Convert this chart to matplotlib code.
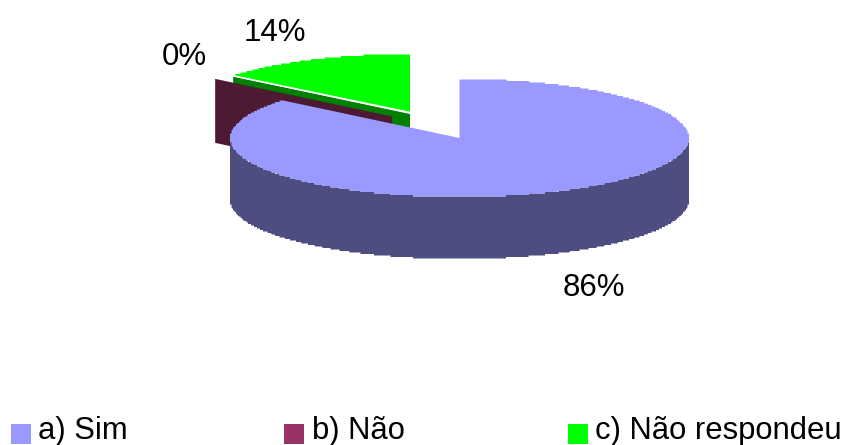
import numpy as np
import matplotlib
matplotlib.use("Agg")
import matplotlib.pyplot as plt
from matplotlib.patches import Polygon, Rectangle

plt.rcParams['font.family'] = ['Liberation Sans', 'DejaVu Sans']

categories = ['a) Sim', 'b) Não', 'c) Não respondeu']
values = [86, 0, 14]
labels = ['86%', '0%', '14%']

top_colors = ['#9999FF', '#993366', '#00FF00']
side_colors = ['#4D4D80', '#4D1933', '#008000']

# Pie geometry in figure pixels
RX, RY, DEPTH = 229.5, 59.0, 62.0
STEP = 1.5  # curved rims are drawn with a slight staircase
centers = [(459.5, 138.0), (392.0, 116.5), (410.0, 113.0)]
label_pos = [(593.5, 296), (184.5, 65), (275, 41)]
legend_swatch_x = [10.5, 284, 568]
legend_text_x = [38.5, 312, 595]

fig = plt.figure(figsize=(8.48, 4.45), dpi=100)
ax = fig.add_axes([0, 0, 1, 1])
ax.set_xlim(0, 848)
ax.set_ylim(445, 0)
ax.axis('off')


def rim(center, theta, stepped=False):
    """Point on the top ellipse; theta runs clockwise from twelve o'clock."""
    t = np.radians(theta)
    dx, dy = RX * np.sin(t), -RY * np.cos(t)
    if stepped:
        dx = np.round(dx / STEP) * STEP
        dy = np.round(dy / STEP) * STEP
    return np.column_stack([center[0] + dx, center[1] + dy])


# Slice extents in degrees, clockwise from twelve o'clock
spans = np.cumsum([0] + values) * 360.0 / sum(values)


def side_wall(center, start, end, color, z):
    pts = rim(center, np.linspace(start, end, 1500), stepped=True)
    low = pts + [0, DEPTH]
    ax.add_patch(Polygon(np.vstack([pts, low[::-1]]), closed=True, fc=color, ec='none', zorder=z))


def cut_face(center, theta, color, z):
    edge = rim(center, np.array([theta]))[0]
    c = np.array(center)
    d = np.array([0, DEPTH + 2])
    ax.add_patch(Polygon([c, edge, edge + d, c + d], closed=True, fc=color, ec='none', zorder=z))


def top_face(center, start, end, color, z):
    arc = rim(center, np.linspace(start, end, 1500), stepped=True)
    first = rim(center, np.array([start]))
    last = rim(center, np.array([end]))
    ax.add_patch(Polygon(np.vstack([[center], first, arc, last]), closed=True,
                         fc=color, ec='none', zorder=z))


# Green slice: cut face seen along its leading edge, then the top
green_c = centers[2]
cut_face((green_c[0], green_c[1] + 1), spans[2], side_colors[2], 1)
top_face(green_c, spans[2], spans[3], top_colors[2], 2)
green_edge = rim(green_c, np.array([spans[2]]))[0]
ax.plot([green_edge[0], green_c[0]], [green_edge[1] + 0.5, green_c[1] - 0.5],
        color='white', lw=1.2, zorder=3, solid_capstyle='butt')

# Zero-width slice shows only as a flat face
cut_face(centers[1], spans[1], side_colors[1], 4)

# Main slice: outer wall on the lower half, then the top
side_wall(centers[0], 90, 270, side_colors[0], 5)
top_face(centers[0], spans[0], spans[1], top_colors[0], 6)

for (x, y), txt in zip(label_pos, labels):
    ax.text(x, y, txt, fontsize=22.5, ha='center', va='baseline', color='black', zorder=10)

# Legend row
for sx, tx, name, col in zip(legend_swatch_x, legend_text_x, categories, top_colors):
    ax.add_patch(Rectangle((sx, 424), 20, 19.5, fc=col, ec='none', zorder=10))
    ax.text(tx, 438.5, name, fontsize=22.3, ha='left', va='baseline', color='black', zorder=10)

fig.savefig('out.png', dpi=100)
